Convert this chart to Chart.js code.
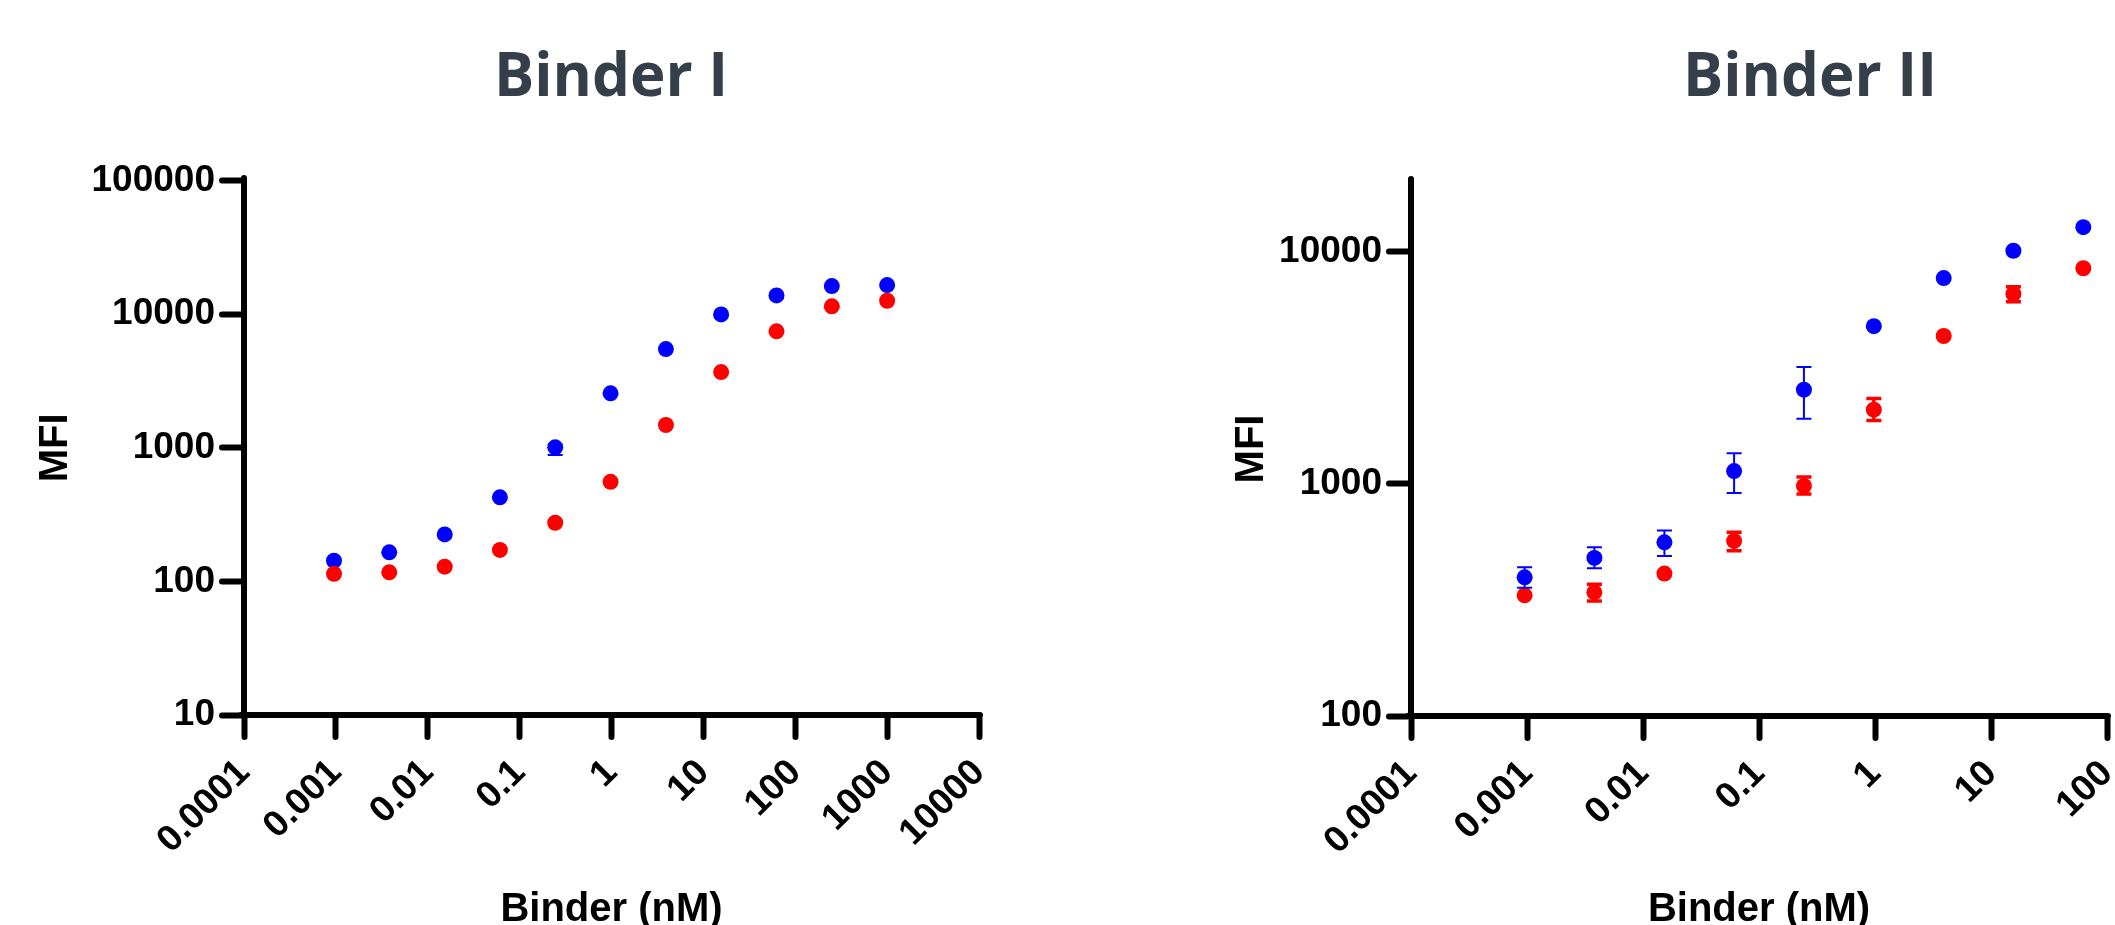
<!DOCTYPE html>
<html>
<head>
<meta charset="utf-8">
<script src="https://cdn.jsdelivr.net/npm/chart.js@4.4.1/dist/chart.umd.min.js"></script>
<style>
  html, body { margin: 0; padding: 0; background: #fff; overflow: hidden; width: 2115px; height: 925px; }
  canvas { position: absolute; top: 0; }
  #binder1 { left: 0; }
  #binder2 { left: 1060px; }
</style>
</head>
<body>
<canvas id="binder1" width="1222" height="960"></canvas>
<canvas id="binder2" width="1500" height="960"></canvas>
<script>
// binder concentration (nM), 4-fold dilution series
const concentrations = [0.000954, 0.00381, 0.0153, 0.061, 0.244, 0.977, 3.91, 15.6, 62.5, 250, 1000];

// Binder I
const binder1Blue = [143, 165, 225, 426, 1009, 2558, 5490, 9980, 13840, 16260, 16550];
const binder1BlueLow = [null, null, null, null, 883, null, null, null, null, null, null];
const binder1BlueHigh = [null, null, null, null, 1060, null, null, null, null, null, null];
const binder1Red = [114, 117, 129, 172, 275, 557, 1482, 3693, 7450, 11460, 12620];

// Binder II (only the first 9 concentrations are in view)
const binder2Blue = [396, 480, 560, 1136, 2547, 4783, 7711, 10110, 12770];
const binder2BlueLow = [357, 433, 489, 915, 1908, null, null, null, null];
const binder2BlueHigh = [437, 533, 630, 1356, 3193, null, null, null, null];
const binder2Red = [331, 341, 411, 568, 980, 2089, 4340, 6590, 8500];
const binder2RedLow = [null, 313, null, 515, 905, 1875, null, 6100, null];
const binder2RedHigh = [null, 370, null, 619, 1070, 2335, null, 7080, null];

// axis ticks
const xTicks1 = [0.0001, 0.001, 0.01, 0.1, 1, 10, 100, 1000, 10000];
const xTickLabels1 = ['0.0001', '0.001', '0.01', '0.1', '1', '10', '100', '1000', '10000'];
const yTicks1 = [10, 100, 1000, 10000, 100000];
const yTickLabels1 = ['10', '100', '1000', '10000', '100000'];

const xTicks2 = [0.0001, 0.001, 0.01, 0.1, 1, 10, 100];
const xTickLabels2 = ['0.0001', '0.001', '0.01', '0.1', '1', '10', '100'];
const yTicks2 = [100, 1000, 10000];
const yTickLabels2 = ['100', '1000', '10000'];

const BLUE = '#0000ff';
const RED = '#ff0000';
const LABEL_FONT = 'Liberation Sans, Arial, sans-serif';

const roundCapPlugin = {
  id: 'roundCaps',
  beforeDraw(chart) {
    chart.ctx.lineCap = 'round';
  }
};

// draws the SD bars from the errLow / errHigh arrays of a dataset
const errorBarPlugin = {
  id: 'errorBars',
  afterDatasetsDraw(chart) {
    const { ctx } = chart;
    const xs = chart.scales.x;
    const ys = chart.scales.y;
    for (let d = chart.data.datasets.length - 1; d >= 0; d--) {
      const ds = chart.data.datasets[d];
      if (!ds.errLow) continue;
      ctx.save();
      ctx.strokeStyle = ds.backgroundColor;
      ctx.lineWidth = ds.errWidth;
      ctx.lineCap = 'butt';
      ds.data.forEach((p, i) => {
        const lo = ds.errLow[i];
        const hi = ds.errHigh[i];
        if (lo == null || hi == null) return;
        const px = xs.getPixelForValue(p.x);
        const yLo = ys.getPixelForValue(lo);
        const yHi = ys.getPixelForValue(hi);
        const half = 7.5;
        ctx.beginPath();
        ctx.moveTo(px, yLo);
        ctx.lineTo(px, yHi);
        ctx.moveTo(px - half, yLo);
        ctx.lineTo(px + half, yLo);
        ctx.moveTo(px - half, yHi);
        ctx.lineTo(px + half, yHi);
        ctx.stroke();
      });
      ctx.restore();
    }
  }
};

function toPoints(xs, ys) {
  return ys.map((v, i) => ({ x: xs[i], y: v }));
}

function makeChart(id, cfg) {
  const ctx = document.getElementById(id).getContext('2d');
  const tickFont = { family: LABEL_FONT, size: 37, weight: 'bold' };
  const titleFont = { family: LABEL_FONT, size: 40, weight: 'bold' };
  const grid = {
    display: true,
    drawOnChartArea: false,
    drawTicks: true,
    tickLength: 22,
    tickWidth: 6,
    tickColor: '#000'
  };
  return new Chart(ctx, {
    type: 'scatter',
    data: { datasets: cfg.datasets },
    options: {
      responsive: false,
      animation: false,
      devicePixelRatio: 1,
      layout: { padding: 0 },
      plugins: {
        legend: { display: false },
        tooltip: { enabled: false },
        title: {
          display: true,
          text: cfg.title,
          color: '#343f4a',
          font: { family: 'Open Sans, Lato, sans-serif', size: 60, weight: 'bold' },
          padding: { top: 43, bottom: cfg.titleGap }
        }
      },
      scales: {
        x: {
          type: 'logarithmic',
          position: 'bottom',
          min: cfg.xTicks[0],
          max: cfg.xTicks[cfg.xTicks.length - 1],
          bounds: 'data',
          grid: grid,
          border: { display: true, width: 6, color: '#000' },
          ticks: {
            color: '#000',
            font: tickFont,
            autoSkip: false,
            maxRotation: 45,
            minRotation: 45,
            padding: 14,
            callback: (v, i) => cfg.xLabels[i]
          },
          title: {
            display: true,
            text: 'Binder (nM)',
            color: '#000',
            font: titleFont,
            padding: { top: 0, bottom: 26 }
          },
          afterBuildTicks(scale) {
            scale.ticks = cfg.xTicks.map(v => ({ value: v }));
          },
          afterFit(scale) {
            scale.height = cfg.xHeight;
          }
        },
        y: {
          type: 'logarithmic',
          position: 'left',
          min: cfg.yMin,
          max: cfg.yMax,
          bounds: 'data',
          grid: grid,
          border: { display: true, width: 6, color: '#000' },
          ticks: {
            color: '#000',
            font: tickFont,
            autoSkip: false,
            padding: 7,
            callback: (v, i) => cfg.yLabels[i]
          },
          title: {
            display: true,
            text: 'MFI',
            color: '#000',
            font: titleFont,
            padding: { top: cfg.mfiPad, bottom: 0 }
          },
          afterBuildTicks(scale) {
            scale.ticks = cfg.yTicks.map(v => ({ value: v }));
          },
          afterFit(scale) {
            scale.width = cfg.yWidth;
          }
        },
        // empty axis on the right, only to reserve space
        spacer: {
          type: 'linear',
          position: 'right',
          display: true,
          grid: { display: false },
          border: { display: false },
          ticks: { display: false },
          afterFit(scale) {
            scale.width = cfg.rightGap;
          }
        }
      }
    },
    plugins: [roundCapPlugin, errorBarPlugin]
  });
}

makeChart('binder1', {
  title: 'Binder I',
  titleGap: 65.7,
  xTicks: xTicks1, xLabels: xTickLabels1,
  yTicks: yTicks1, yLabels: yTickLabels1,
  yMin: 10, yMax: 100000,
  xHeight: 245, yWidth: 244, rightGap: 243, mfiPad: 32,
  datasets: [
    {
      label: 'red',
      data: toPoints(concentrations, binder1Red),
      backgroundColor: RED, borderColor: RED,
      pointRadius: 8, pointBorderWidth: 0, showLine: false
    },
    {
      label: 'blue',
      data: toPoints(concentrations, binder1Blue),
      errLow: binder1BlueLow, errHigh: binder1BlueHigh, errWidth: 2,
      backgroundColor: BLUE, borderColor: BLUE,
      pointRadius: 8, pointBorderWidth: 0, showLine: false
    }
  ]
});

makeChart('binder2', {
  title: 'Binder II',
  titleGap: 67,
  xTicks: xTicks2, xLabels: xTickLabels2,
  yTicks: yTicks2, yLabels: yTickLabels2,
  yMin: 100, yMax: 20000,
  xHeight: 244, yWidth: 351, rightGap: 453, mfiPad: 168,
  datasets: [
    {
      label: 'red',
      data: toPoints(concentrations, binder2Red),
      errLow: binder2RedLow, errHigh: binder2RedHigh, errWidth: 3.5,
      backgroundColor: RED, borderColor: RED,
      pointRadius: 8, pointBorderWidth: 0, showLine: false
    },
    {
      label: 'blue',
      data: toPoints(concentrations, binder2Blue),
      errLow: binder2BlueLow, errHigh: binder2BlueHigh, errWidth: 2,
      backgroundColor: BLUE, borderColor: BLUE,
      pointRadius: 8, pointBorderWidth: 0, showLine: false
    }
  ]
});
</script>
</body>
</html>
